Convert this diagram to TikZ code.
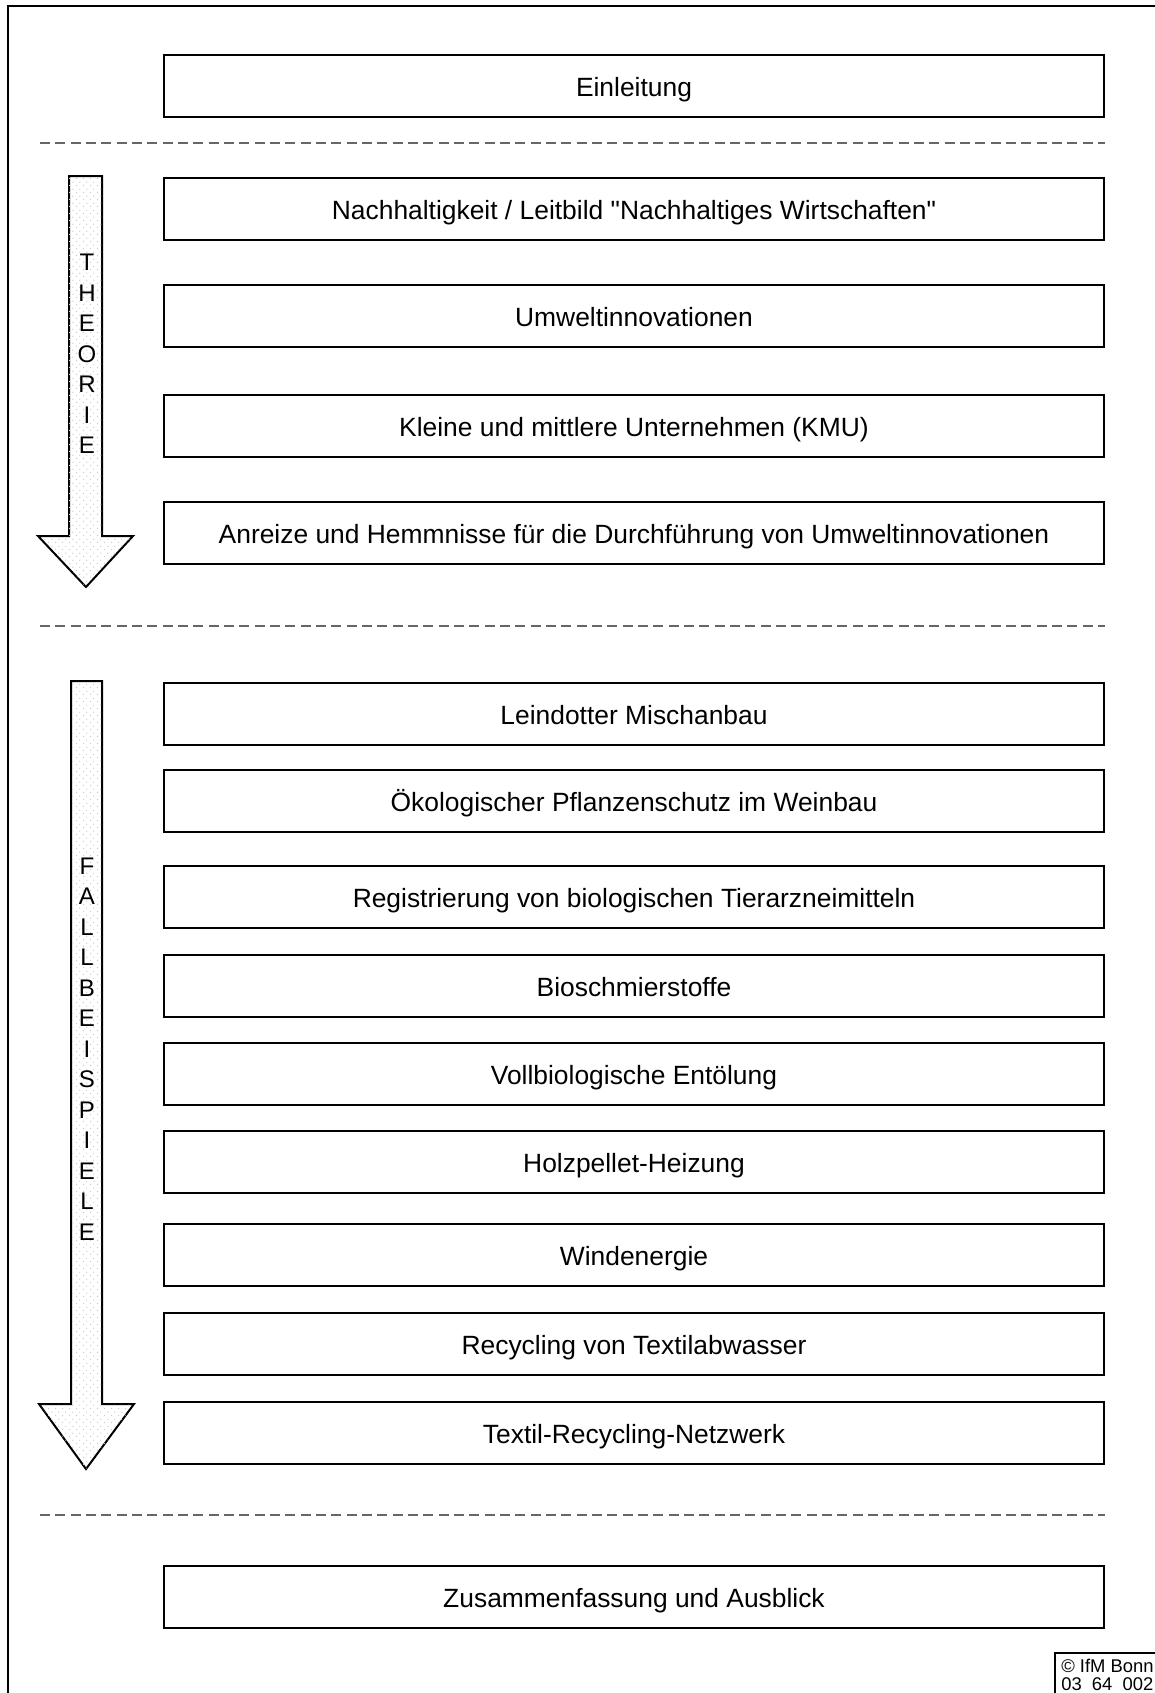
\documentclass[tikz,border=0pt]{standalone}
\usepackage{fontspec}
\setmainfont{Liberation Sans}
\usetikzlibrary{patterns.meta}
\tikzdeclarepattern{name=softdots, type=uncolored,
  bounding box={(0pt,0pt) and (5pt,5pt)}, tile size={(5pt,5pt)},
  code={\fill (1.25pt,1.25pt) circle (0.55pt); \fill (3.75pt,3.75pt) circle (0.55pt);}}
\tikzset{
  topic/.style={draw=black, line width=1.5pt, minimum width=705pt, minimum height=46.5pt,
    inner sep=0pt, text height=18.2pt, text depth=2pt,
    font=\fontsize{19.8}{23}\selectfont, fill=white},
  sep/.style={draw=gray!80!black, line width=1.1pt, dash pattern=on 7.5pt off 4pt},
  bigarrow/.style={draw=black, line width=1.5pt, fill=white, postaction={pattern={softdots}, pattern color=gray!40}},
  vlabel/.style={align=center, font=\fontsize{18}{22.9}\selectfont, inner sep=0pt},
}
\begin{document}
\begin{tikzpicture}[x=0.75pt,y=-0.75pt]
\useasboundingbox (0,0) rectangle (1155,1693);
% outer frame
\draw[line width=1.5pt] (8,1700) -- (8,6) -- (1165,6);
% separators
\coordinate (s1a) at (40,143); \coordinate (s1b) at (1105,143);
\coordinate (s2a) at (40,626); \coordinate (s2b) at (1105,626);
\coordinate (s3a) at (40,1515); \coordinate (s3b) at (1105,1515);
\draw[sep] (s1a) -- (s1b);
\draw[sep] (s2a) -- (s2b);
\draw[sep] (s3a) -- (s3b);
% arrows
\draw[bigarrow] (69,176) -- (102,176) -- (102,536) -- (133,536) -- (86,587) -- (38,536) -- (69,536) -- cycle;
\draw[bigarrow] (71,681) -- (102,681) -- (102,1404) -- (134,1404) -- (86,1469) -- (39,1404) -- (71,1404) -- cycle;
\node[vlabel] (theorie) at (87,354) {T\\H\\E\\O\\R\\I\\E};
\node[vlabel] (fall) at (87,1049) {F\\A\\L\\L\\B\\E\\I\\S\\P\\I\\E\\L\\E};
% boxes
\node[topic] (b0) at (634,86) {Einleitung};
\node[topic] (b1) at (634,209) {Nachhaltigkeit / Leitbild \textquotedbl Nachhaltiges Wirtschaften\textquotedbl};
\node[topic] (b2) at (634,315.5) {Umweltinnovationen};
\node[topic] (b3) at (634,426) {Kleine und mittlere Unternehmen (KMU)};
\node[topic] (b4) at (634,532.5) {Anreize und Hemmnisse für die Durchführung von Umweltinnovationen};
\node[topic] (c1) at (634,713.5) {Leindotter Mischanbau};
\node[topic] (c2) at (634,801) {Ökologischer Pflanzenschutz im Weinbau};
\node[topic] (c3) at (634,897) {Registrierung von biologischen Tierarzneimitteln};
\node[topic] (c4) at (634,986) {Bioschmierstoffe};
\node[topic] (c5) at (634,1074) {Vollbiologische Entölung};
\node[topic] (c6) at (634,1161.5) {Holzpellet-Heizung};
\node[topic] (c7) at (634,1255) {Windenergie};
\node[topic] (c8) at (634,1344) {Recycling von Textilabwasser};
\node[topic] (c9) at (634,1432.5) {Textil-Recycling-Netzwerk};
\node[topic] (z) at (634,1597) {Zusammenfassung und Ausblick};
% copyright
\draw[line width=1.1pt] (1055,1700) -- (1055,1653) -- (1165,1653);
\node[anchor=north west, align=left, inner sep=0pt, font=\fontsize{13.8}{13.2}\selectfont] (copy) at (1061,1659) {© IfM Bonn\\03~~64~~002};
\end{tikzpicture}
\end{document}
